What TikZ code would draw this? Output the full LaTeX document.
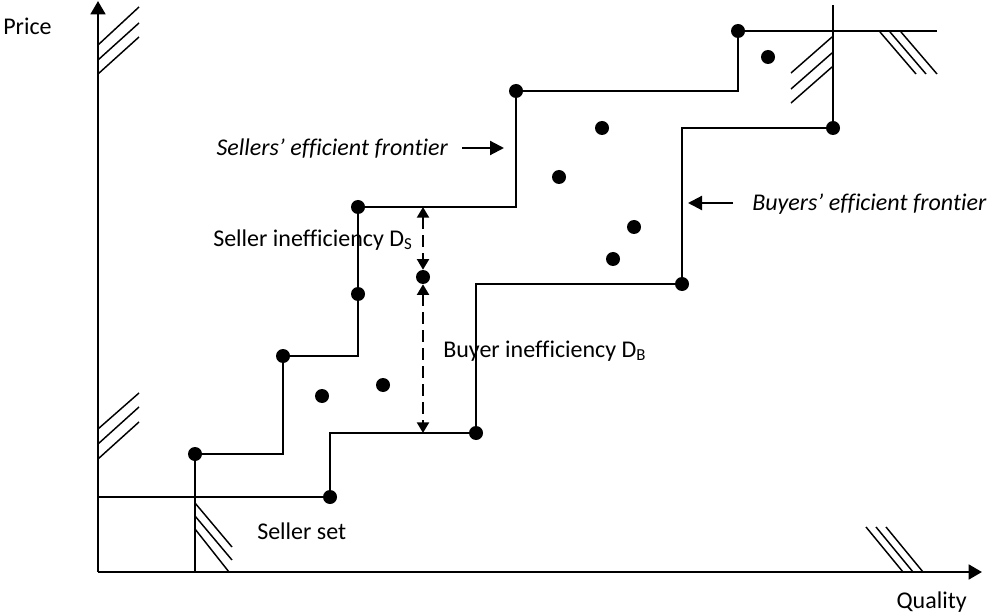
\documentclass[tikz,border=0pt]{standalone}
\usepackage{fontspec}
\setmainfont[Ligatures=NoCommon]{Carlito}
\usetikzlibrary{arrows.meta}
\begin{document}
\begin{tikzpicture}[x=0.75pt,y=-0.75pt,
  axis/.style={line width=2pt,-{Triangle[length=10pt,width=11pt]}},
  frontier/.style={line width=1.5pt},
  hatch/.style={line width=1.1pt},
  dot/.style={circle,fill=black,inner sep=0pt,minimum size=10.5pt},
  lbl/.style={font=\fontsize{18}{21}\selectfont,inner sep=0pt},
  ilbl/.style={font=\fontsize{18}{21}\selectfont\itshape,inner sep=0pt},
  dasharrow/.style={line width=1.6pt,dash pattern=on 9pt off 4.5pt,{Triangle[length=8pt,width=9pt]}-{Triangle[length=8pt,width=9pt]}},
  pointer/.style={line width=1.6pt,-{Triangle[length=10.5pt,width=10.5pt]}}]
\useasboundingbox (0,0) rectangle (987,616);
% axes
\coordinate (O) at (98,572);
\coordinate (ytop) at (98,1);
\coordinate (xend) at (982,572);
\draw[axis] (O) -- (ytop);
\draw[axis] (O) -- (xend);
\node[lbl,anchor=west] (price) at (3,26) {Price};
\node[lbl,anchor=east] (quality) at (967,602) {Quality};
% seller frontier points
\coordinate (sbase) at (195,572);
\node[dot] (s1) at (195,454) {};
\node[dot] (s2) at (283,356) {};
\node[dot] (s3) at (358,294) {};
\node[dot] (s4) at (358,207) {};
\node[dot] (s5) at (516,91) {};
\node[dot] (s6) at (738,31) {};
\coordinate (send) at (937,31);
\draw[frontier] (sbase) -- (s1.center) -| (s2.center) -| (s4.center) -| (s5.center) -| (s6.center) -- (send);
% seller set and buyer frontier
\coordinate (setstart) at (98,497);
\node[dot] (b1) at (330,497) {};
\node[dot] (b2) at (476,433) {};
\node[dot] (b3) at (682,284) {};
\node[dot] (b4) at (833,128) {};
\coordinate (btop) at (833,5);
\draw[frontier] (setstart) -- (b1.center) |- (b2.center) |- (b3.center) |- (b4.center) -- (btop);
% interior dots
\node[dot] (p1) at (322,396) {};
\node[dot] (p2) at (383,385) {};
\node[dot] (p3) at (602,128) {};
\node[dot] (p4) at (559,177) {};
\node[dot] (p5) at (634,227) {};
\node[dot] (p6) at (613,259) {};
\node[dot] (p7) at (768,57) {};
% inefficiency arrows
\coordinate (dtop) at (423,207);
\node[dot] (dmid) at (423,277) {};
\coordinate (dbot) at (423,433);
\draw[dasharrow] (dtop) -- (dmid);
\draw[dasharrow] (dmid) -- (dbot);
% labels
\node[ilbl,anchor=east] (sef) at (448,149) {Sellers’ efficient frontier};
\coordinate (seftail) at (462,148);
\coordinate (sefhead) at (504,148);
\draw[pointer] (seftail) -- (sefhead);
\node[ilbl,anchor=west] (bef) at (752,204) {Buyers’ efficient frontier};
\coordinate (beftail) at (733,203);
\coordinate (befhead) at (688,203);
\draw[pointer] (beftail) -- (befhead);
\node[lbl,anchor=west] (sin) at (213,240) {Seller inefficiency D\textsubscript{S}};
\node[lbl,anchor=west] (bin) at (443,351) {Buyer inefficiency D\textsubscript{B}};
\node[lbl,anchor=west] (sset) at (257,531) {Seller set};
% hatching
\draw[hatch] (98,45) -- (139,7) (98,60) -- (139,23) (98,74) -- (139,37);
\draw[hatch] (98,429) -- (139,393) (98,444) -- (139,407) (98,459) -- (139,422);
\draw[hatch] (195,503) -- (232,547) (195,516) -- (232,560) (195,529) -- (229,572);
\draw[hatch] (791,73) -- (832,37) (791,89) -- (832,53) (791,103) -- (832,67);
\draw[hatch] (880,32) -- (916,74) (890,32) -- (926,74) (901,32) -- (937,74);
\draw[hatch] (866,527) -- (903,572) (876,527) -- (913,572) (886,527) -- (923,572);
\end{tikzpicture}
\end{document}
